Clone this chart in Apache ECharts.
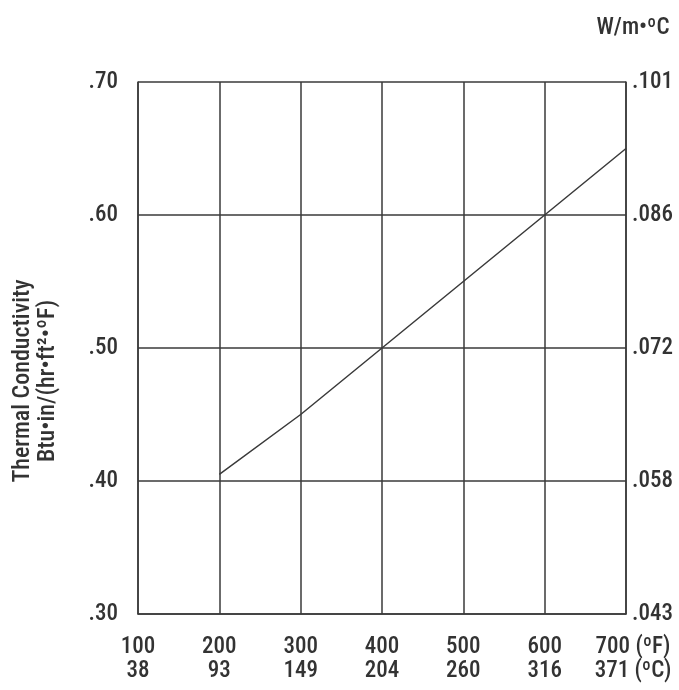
<!DOCTYPE html>
<html>
<head>
<meta charset="utf-8">
<script src="https://cdn.jsdelivr.net/npm/echarts@6/dist/echarts.min.js"></script>
<style>
  html, body { margin: 0; padding: 0; background: #fff; }
  #chart { width: 679px; height: 690px; }
</style>
</head>
<body>
<div id="chart"></div>
<script>
// Mean temperature (ºF) and the matching ºC tick labels
const tempF = [100, 200, 300, 400, 500, 600, 700];
const tempC = ['38', '93', '149', '204', '260', '316', '371'];

// Thermal conductivity, Btu•in/(hr•ft²•ºF), measured along the curve
const curveTempF = [200, 300, 400, 500, 600, 700];
const conductivity = [0.405, 0.45, 0.50, 0.55, 0.60, 0.65];

// Left (imperial) and right (SI) tick labels
const leftTicks = [0.30, 0.40, 0.50, 0.60, 0.70];
const rightTickLabels = ['.043', '.058', '.072', '.086', '.101'];

const FONT = 'Liberation Sans Narrow, Arial Narrow, Roboto Condensed, Liberation Sans, sans-serif';
const WEIGHT = 500;
const SIZE = 23;
const TXT = '#333333';
const LINE = '#3a3a3a';

const chart = echarts.init(document.getElementById('chart'));

const fmtLeft = v => v.toFixed(2).replace(/^0/, '');
const fmtRight = v => {
  const i = leftTicks.findIndex(t => Math.abs(t - v) < 1e-6);
  return i >= 0 ? rightTickLabels[i] : '';
};

chart.setOption({
  backgroundColor: '#ffffff',
  animation: false,
  textStyle: { fontFamily: FONT },
  grid: { left: 138, right: 53, top: 82, bottom: 76 },
  xAxis: {
    type: 'value',
    min: 100, max: 700, interval: 100,
    axisLine: { show: true, lineStyle: { color: LINE, width: 1.5 } },
    axisTick: { show: false },
    splitLine: { show: true, lineStyle: { color: LINE, width: 1.5 } },
    axisLabel: {
      margin: 21,
      fontSize: SIZE,
      fontWeight: WEIGHT,
      lineHeight: 24,
      color: TXT,
      fontFamily: FONT,
      formatter: v => {
        const i = tempF.indexOf(v);
        if (i < 0) return '';
        if (i === tempF.length - 1) return '{p| }' + v + ' (ºF)\n{p| }' + tempC[i] + ' (ºC)';
        return v + '\n' + tempC[i];
      },
      rich: { p: { width: 14, fontSize: SIZE, lineHeight: 24 } }
    }
  },
  yAxis: [
    {
      type: 'value',
      position: 'left',
      min: 0.30, max: 0.70, interval: 0.10,
      axisLine: { show: true, lineStyle: { color: LINE, width: 1.5 } },
      axisTick: { show: false },
      splitLine: { show: true, lineStyle: { color: LINE, width: 1.5 } },
      axisLabel: { margin: 20, fontSize: SIZE, fontWeight: WEIGHT, color: TXT, fontFamily: FONT, formatter: fmtLeft }
    },
    {
      type: 'value',
      position: 'right',
      min: 0.30, max: 0.70, interval: 0.10,
      name: 'W/m•ºC',
      nameLocation: 'end',
      nameGap: 42,
      nameTextStyle: { fontSize: SIZE, fontWeight: WEIGHT, color: TXT, fontFamily: FONT, padding: [0, 0, 0, 14] },
      axisLine: { show: true, lineStyle: { color: LINE, width: 1.5 } },
      axisTick: { show: false },
      splitLine: { show: false },
      axisLabel: { margin: 6, fontSize: SIZE, fontWeight: WEIGHT, color: TXT, fontFamily: FONT, formatter: fmtRight }
    }
  ],
  graphic: [
    {
      type: 'text',
      x: 35, y: 381,
      rotation: Math.PI / 2,
      style: {
        text: 'Thermal Conductivity\nBtu•in/(hr•ft²•ºF)',
        fontSize: 24,
        fontWeight: WEIGHT,
        fontFamily: FONT,
        fill: TXT,
        align: 'center',
        verticalAlign: 'middle',
        lineHeight: 25
      }
    }
  ],
  series: [
    {
      type: 'line',
      yAxisIndex: 0,
      data: curveTempF.map((t, i) => [t, conductivity[i]]),
      showSymbol: false,
      smooth: false,
      lineStyle: { color: LINE, width: 1.5 }
    }
  ]
});
</script>
</body>
</html>
